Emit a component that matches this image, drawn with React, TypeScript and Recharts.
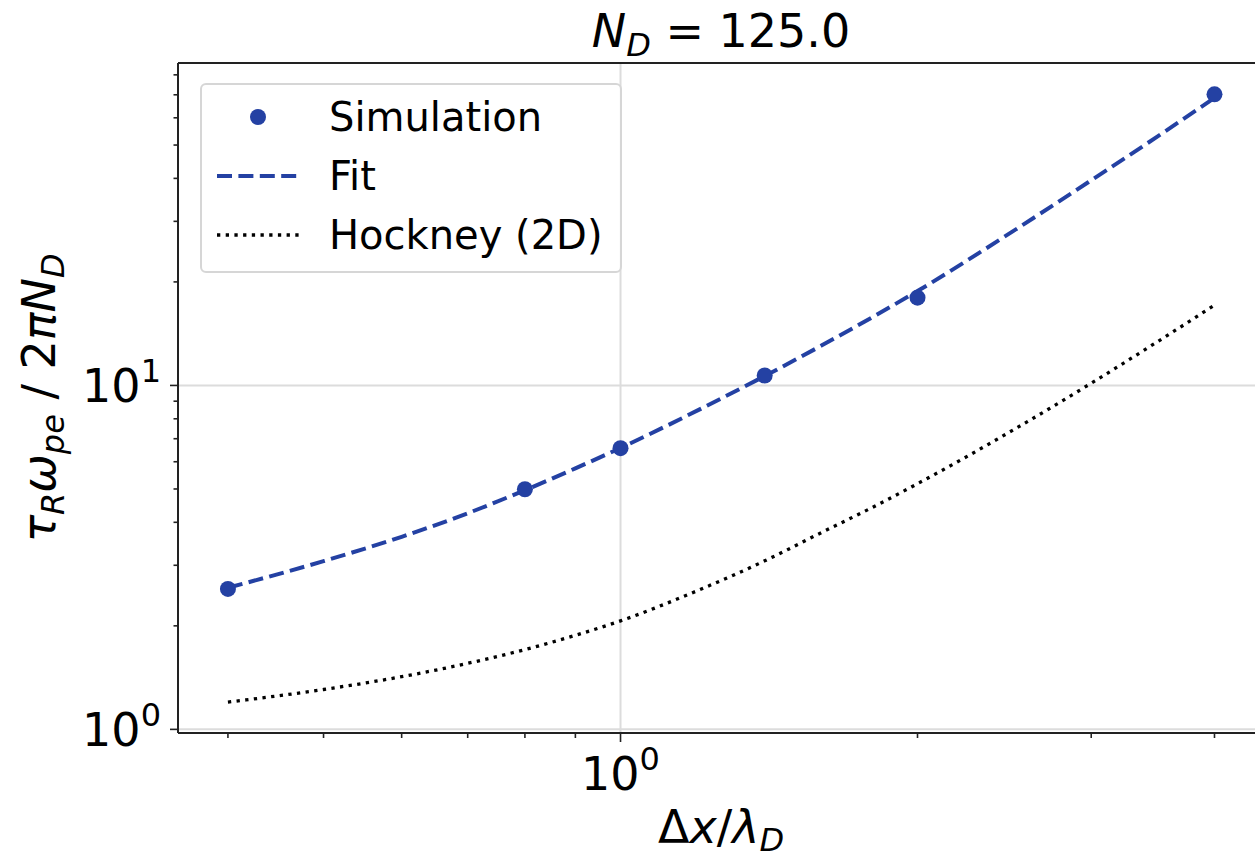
import React from 'react';
import {
  ComposedChart,
  Line,
  Scatter,
  XAxis,
  YAxis,
  CartesianGrid,
  ReferenceLine
} from 'recharts';

// Fit and Hockney curves (log-log)
const curveX = [0.4, 0.5, 0.6, 0.7, 0.8, 0.9, 1.0, 1.2, 1.4, 1.6, 1.8, 2.0, 2.5, 3.0, 3.5, 4.0];
const fitY = [2.58, 3.085, 3.63, 4.25, 4.96, 5.74, 6.58, 8.49, 10.65, 13.08, 15.79, 18.81, 28.1, 39.5, 52.9, 68.6];
const hockneyY = [1.2, 1.306, 1.423, 1.556, 1.706, 1.877, 2.068, 2.54, 3.09, 3.74, 4.42, 5.18, 7.42, 10.15, 13.39, 17.12];

// Simulation points
const simX = [0.4, 0.8, 1.0, 1.4, 2.0, 4.0];
const simY = [2.56, 4.99, 6.57, 10.69, 18.0, 70.2];

// Axis setup
const X_DOMAIN = [0.356, 4.49];
const Y_DOMAIN = [0.976, 86.6];
const xTicks = [0.4, 0.5, 0.6, 0.7, 0.8, 0.9, 1, 2, 3, 4];
const yTicks = [1, 2, 3, 4, 5, 6, 7, 8, 9, 10, 20, 30, 40, 50, 60, 70, 80];
const xMajor: Record<number, string> = { 1: '0' };
const yMajor: Record<number, string> = { 1: '0', 10: '1' };

const BLUE = '#2441a3';
const FONT = 'DejaVu Sans';

const curveRows = curveX.map((x, i) => ({ x, fit: fitY[i], hockney: hockneyY[i] }));
const simRows = simX.map((x, i) => ({ x, y: simY[i] }));

const XTick = (props: any) => {
  const { x, y, payload } = props;
  const exp = xMajor[payload.value];
  const len = exp !== undefined ? 9 : 5;
  return (
    <g>
      <line x1={x} x2={x} y1={y} y2={y + len} stroke="#222" strokeWidth={1.6} />
      {exp !== undefined && (
        <text x={x} y={y + 57} textAnchor="middle" fontSize={46} fontFamily={FONT} fill="#000">
          10<tspan dy={-20} fontSize={32}>{exp}</tspan>
        </text>
      )}
    </g>
  );
};

const YTick = (props: any) => {
  const { x, y, payload } = props;
  const exp = yMajor[payload.value];
  const len = exp !== undefined ? 8 : 4.5;
  return (
    <g>
      <line x1={x} x2={x - len} y1={y} y2={y} stroke="#222" strokeWidth={1.6} />
      {exp !== undefined && (
        <text x={x - 17} y={y + 17} textAnchor="end" fontSize={46} fontFamily={FONT} fill="#000">
          10<tspan dy={-20} fontSize={32}>{exp}</tspan>
        </text>
      )}
    </g>
  );
};

const Dot = (props: any) => <circle cx={props.cx} cy={props.cy} r={8} fill={BLUE} />;

const legendRows = [
  { name: 'Simulation', kind: 'dot' },
  { name: 'Fit', kind: 'dash' },
  { name: 'Hockney (2D)', kind: 'dots' }
];

const Swatch = ({ kind }: { kind: string }) => (
  <svg width={100} height={20} style={{ display: 'block' }}>
    {kind === 'dot' && <circle cx={56} cy={10} r={8} fill={BLUE} />}
    {kind === 'dash' && (
      <line x1={15} x2={97} y1={10} y2={10} stroke={BLUE} strokeWidth={4} strokeDasharray="15 6.4" />
    )}
    {kind === 'dots' && (
      <line x1={15} x2={97} y1={10} y2={10} stroke="#000" strokeWidth={3.3} strokeDasharray="3.3 5.4" />
    )}
  </svg>
);

export default function App() {
  return (
    <div
      style={{
        position: 'absolute',
        left: 0,
        top: 0,
        width: 1255,
        height: 855,
        overflow: 'hidden',
        background: '#fff',
        fontFamily: FONT
      }}
    >
      <ComposedChart width={1290} height={855} margin={{ top: 63, right: 26, bottom: 0, left: 0 }}>
        <CartesianGrid horizontalValues={[1, 10]} verticalValues={[1]} stroke="#dcdcdc" strokeWidth={2} />
        <XAxis
          dataKey="x"
          type="number"
          scale="log"
          domain={X_DOMAIN}
          allowDataOverflow
          ticks={xTicks}
          interval={0}
          tickSize={0}
          tickMargin={0}
          tickLine={false}
          axisLine={{ stroke: '#222', strokeWidth: 2 }}
          height={122}
          tick={(p: any) => <XTick {...p} />}
        />
        <YAxis
          type="number"
          scale="log"
          domain={Y_DOMAIN}
          allowDataOverflow
          ticks={yTicks}
          interval={0}
          tickSize={0}
          tickMargin={0}
          tickLine={false}
          axisLine={{ stroke: '#222', strokeWidth: 2 }}
          width={178}
          tick={(p: any) => <YTick {...p} />}
        />
        <ReferenceLine y={Y_DOMAIN[1]} stroke="#222" strokeWidth={2} />
        <ReferenceLine x={X_DOMAIN[1]} stroke="#222" strokeWidth={2} />
        <Line
          data={curveRows}
          dataKey="hockney"
          type="monotone"
          stroke="#000"
          strokeWidth={3.3}
          strokeDasharray="3.3 5.4"
          dot={false}
          isAnimationActive={false}
        />
        <Line
          data={curveRows}
          dataKey="fit"
          type="monotone"
          stroke={BLUE}
          strokeWidth={4}
          strokeDasharray="15 6.4"
          dot={false}
          isAnimationActive={false}
        />
        <Scatter data={simRows} dataKey="y" fill={BLUE} shape={Dot} isAnimationActive={false} />
      </ComposedChart>

      {/* title and axis labels */}
      <svg
        width={1255}
        height={855}
        style={{ position: 'absolute', left: 0, top: 0, pointerEvents: 'none' }}
        fontFamily={FONT}
      >
        <text x={721} y={47} textAnchor="middle" fontSize={46} fill="#000">
          <tspan fontStyle="italic">N</tspan>
          <tspan fontStyle="italic" fontSize={32} dy={9}>D</tspan>
          <tspan dy={-9}> = 125.0</tspan>
        </text>
        <text x={721} y={843} textAnchor="middle" fontSize={46} fill="#000">
          <tspan>Δ</tspan>
          <tspan fontStyle="italic">x</tspan>
          <tspan>/</tspan>
          <tspan fontStyle="italic">λ</tspan>
          <tspan fontStyle="italic" fontSize={32} dy={8}>D</tspan>
        </text>
        <text
          x={55}
          y={398}
          textAnchor="middle"
          fontSize={46}
          fill="#000"
          transform="rotate(-90, 55, 398)"
        >
          <tspan fontStyle="italic">τ</tspan>
          <tspan fontStyle="italic" fontSize={32} dy={9}>R</tspan>
          <tspan fontStyle="italic" dy={-9}>ω</tspan>
          <tspan fontStyle="italic" fontSize={32} dy={9}>pe</tspan>
          <tspan dy={-9}> / 2</tspan>
          <tspan fontStyle="italic">πN</tspan>
          <tspan fontStyle="italic" fontSize={32} dy={9}>D</tspan>
        </text>
      </svg>

      {/* legend */}
      <div
        style={{
          position: 'absolute',
          left: 200,
          top: 83,
          width: 418,
          height: 186,
          border: '2px solid #d6d6d6',
          borderRadius: 6,
          background: 'rgba(255,255,255,0.8)',
          boxSizing: 'content-box'
        }}
      >
        {legendRows.map((r, i) => (
          <div
            key={r.name}
            style={{
              position: 'absolute',
              left: 0,
              top: 2 + i * 59,
              height: 60,
              display: 'flex',
              alignItems: 'center'
            }}
          >
            <Swatch kind={r.kind} />
            <span style={{ marginLeft: 27, fontSize: 40, color: '#000', lineHeight: '60px' }}>{r.name}</span>
          </div>
        ))}
      </div>
    </div>
  );
}
